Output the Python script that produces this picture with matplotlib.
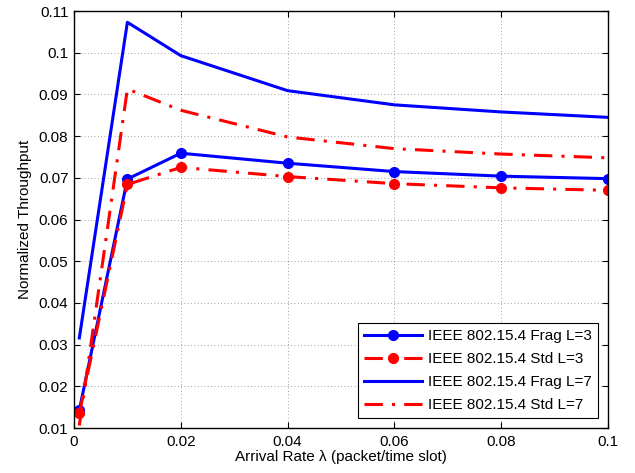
import numpy as np
import matplotlib
matplotlib.use('Agg')
import matplotlib.pyplot as plt

plt.rcParams['font.family'] = ['Liberation Sans', 'DejaVu Sans']

# arrival rate (packet/time slot)
rate = [0.001, 0.01, 0.02, 0.04, 0.06, 0.08, 0.1]

frag_l3 = [0.0143, 0.0697, 0.0759, 0.0735, 0.0715, 0.0704, 0.0698]
std_l3 = [0.0135, 0.0684, 0.0725, 0.0703, 0.0686, 0.0676, 0.0670]
frag_l7 = [0.0316, 0.1073, 0.0993, 0.0909, 0.0875, 0.0858, 0.0845]
std_l7 = [0.0106, 0.0913, 0.0862, 0.0798, 0.0770, 0.0757, 0.0748]

labels = ['IEEE 802.15.4 Frag L=3', 'IEEE 802.15.4 Std L=3',
          'IEEE 802.15.4 Frag L=7', 'IEEE 802.15.4 Std L=7']

fig = plt.figure(figsize=(6.35, 4.73), dpi=100)
ax = fig.add_axes([0.1165, 0.0951, 0.841, 0.8816])

dashdot = (0, (6, 3, 1, 3))
ax.plot(rate, frag_l3, '-', color='blue', lw=2.2, marker='o', ms=7, label=labels[0])
ax.plot(rate, std_l3, color='red', ls=dashdot, lw=2.2, marker='o', ms=7, label=labels[1])
ax.plot(rate, frag_l7, '-', color='blue', lw=2.2, label=labels[2])
ax.plot(rate, std_l7, color='red', ls=dashdot, lw=2.2, label=labels[3])

ax.set_xlim(0, 0.1)
ax.set_ylim(0.01, 0.11)
ax.set_xticks([0, 0.02, 0.04, 0.06, 0.08, 0.1])
ax.set_xticklabels(['0', '0.02', '0.04', '0.06', '0.08', '0.1'])
ax.set_yticks(np.arange(0.01, 0.111, 0.01))
ax.set_yticklabels(['0.01', '0.02', '0.03', '0.04', '0.05', '0.06', '0.07',
                    '0.08', '0.09', '0.1', '0.11'])
ax.tick_params(direction='in', top=True, right=True, labelsize=11, length=4)
ax.tick_params(axis='x', pad=5)
ax.tick_params(axis='y', pad=4)
ax.grid(True, color='black', ls=(0, (1, 3)), lw=0.6, alpha=0.5)
for s in ax.spines.values():
    s.set_linewidth(1.0)

ax.set_xlabel('Arrival Rate λ (packet/time slot)', fontsize=11, labelpad=1)
ax.set_ylabel('Normalized Throughput', fontsize=11, labelpad=5)

leg = ax.legend(loc='lower right', fontsize=11, fancybox=False, framealpha=1,
                edgecolor='black', handlelength=3.8, borderaxespad=0.65,
                labelspacing=0.58, handletextpad=0.4, borderpad=0.4)
leg.get_frame().set_linewidth(0.8)

fig.savefig('out.png', dpi=100)
